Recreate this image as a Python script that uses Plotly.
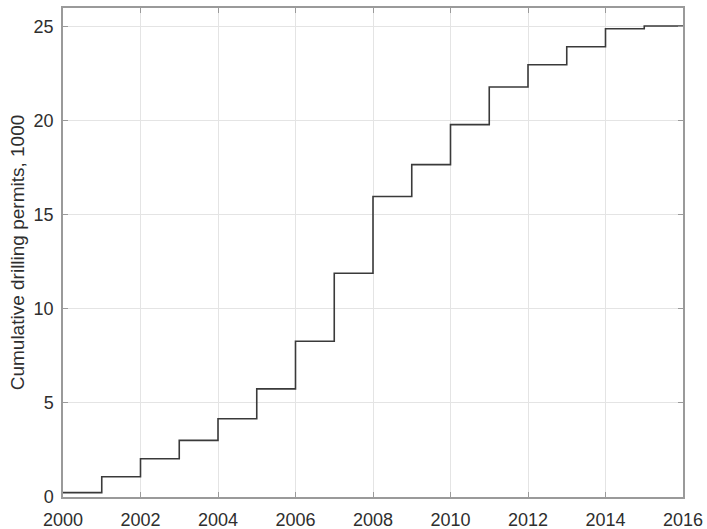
import plotly.graph_objects as go

# Cumulative drilling permits (thousands) at the start of each year
years = [2000, 2001, 2002, 2003, 2004, 2005, 2006, 2007,
         2008, 2009, 2010, 2011, 2012, 2013, 2014, 2015]
permits = [0.23, 1.08, 2.03, 3.01, 4.16, 5.75, 8.28, 11.9,
           15.98, 17.67, 19.8, 21.8, 22.98, 23.94, 24.9, 25.04]
end_year = 2016

x_ticks = [2000, 2002, 2004, 2006, 2008, 2010, 2012, 2014, 2016]
y_ticks = [0, 5, 10, 15, 20, 25]

# stairs plot: hold each value until the next year
xs = years + [end_year]
ys = permits + [permits[-1]]

FONT = "Liberation Sans, Arial, sans-serif"

fig = go.Figure(go.Scatter(
    x=xs, y=ys, mode="lines", line_shape="hv",
    line=dict(color="#3a3a3a", width=1.6),
    showlegend=False, hoverinfo="skip",
))

axis_common = dict(
    showgrid=True, gridcolor="#e4e4e4", gridwidth=1,
    showline=True, linecolor="#9a9a9a", linewidth=1.5,
    mirror="ticks", ticks="inside", ticklen=5, tickcolor="#9a9a9a",
    zeroline=False, automargin=False,
    tickfont=dict(family=FONT, size=18, color="#2e2e2e"),
)

fig.update_xaxes(range=[2000, 2016], tickvals=x_ticks,
                 ticktext=[str(t) for t in x_ticks],
                 ticklabelstandoff=6, **axis_common)
fig.update_yaxes(range=[0, 26], tickvals=y_ticks,
                 ticklabelstandoff=4,
                 title=dict(text="Cumulative drilling permits, 1000",
                            font=dict(family=FONT, size=19, color="#2e2e2e"),
                            standoff=4),
                 **axis_common)

fig.update_layout(
    width=707, height=529,
    margin=dict(l=63, r=24, t=8, b=32),
    plot_bgcolor="white", paper_bgcolor="white",
)

fig.write_html("out.html")
